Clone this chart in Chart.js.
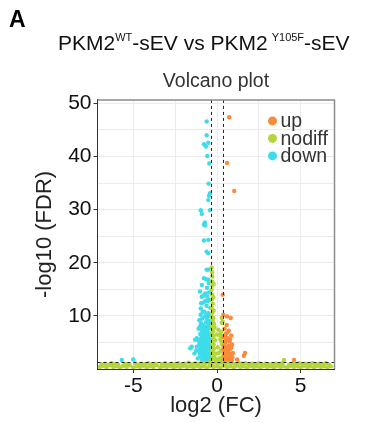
<!DOCTYPE html>
<html>
<head>
<meta charset="utf-8">
<script src="https://cdn.jsdelivr.net/npm/chart.js@4.4.0/dist/chart.umd.min.js"></script>
<style>
  html, body { margin: 0; padding: 0; background: #fff; }
  #wrap { position: relative; width: 374px; height: 422px; }
  #wrap canvas { position: absolute; left: 0; top: 0; }
  .panel { position: absolute; left: 9px; top: 6px; font: bold 23px "Liberation Sans", Arial, sans-serif; color: #000; }
  .main { position: absolute; left: 58px; top: 31px; font: 21px "Liberation Sans", Arial, sans-serif; color: #111; white-space: nowrap; }
  .main sup { font-size: 11px; vertical-align: 9px; }
</style>
</head>
<body>
<div id="wrap">
  <canvas id="volcano" width="374" height="422"></canvas>
  <div class="panel">A</div>
  <div class="main">PKM2<sup>WT</sup>-sEV vs PKM2<sup style="margin-left:4px">Y105F</sup>-sEV</div>
</div>
<script>
// volcano plot points, [log2 FC, -log10 FDR]
const upPoints = [
  [0.73, 47.4], [0.6, 38.8], [1.03, 33.5], [0.34, 14.0], [0.38, 10.2], [0.82, 9.6],
  [0.6, 9.9], [0.58, 8.3], [0.45, 7.6], [0.7, 7.2], [0.52, 6.6], [0.85, 6.3],
  [0.4, 6.0], [0.65, 5.8], [0.75, 5.2], [0.5, 5.0], [0.9, 4.6], [0.42, 4.4],
  [0.6, 4.2], [0.8, 3.8], [0.48, 3.5], [0.68, 3.2], [0.95, 3.0], [0.4, 2.8],
  [0.55, 2.4], [0.78, 2.2], [0.62, 1.8], [0.45, 1.7], [0.88, 1.6], [1.67, 3.0],
  [1.6, 2.5], [1.2, 1.8], [4.6, 1.7],
  [0.5, 6.0], [0.62, 6.9], [0.78, 5.6], [0.55, 5.4], [0.7, 4.4], [0.85, 4.0],
  [0.5, 4.1], [0.58, 3.0], [0.78, 2.8], [0.46, 2.2], [0.7, 1.7], [0.92, 2.2],
  [0.4, 3.6], [0.66, 3.8]
];

const downPoints = [
  [-0.62, 46.6], [-0.62, 44.0], [-0.78, 42.3], [-0.66, 41.9], [-0.52, 42.6], [-0.58, 40.1],
  [-0.46, 38.7], [-0.5, 34.9], [-0.42, 33.1], [-0.48, 32.6], [-0.52, 31.8], [-0.97, 29.9],
  [-0.91, 29.2], [-0.42, 29.9], [-0.78, 27.2], [-0.72, 27.6], [-0.72, 27.0], [-0.78, 24.2],
  [-0.52, 24.3], [-0.62, 22.1], [-0.52, 21.8], [-0.62, 18.7], [-0.52, 18.7], [-0.78, 17.1],
  [-0.66, 16.9], [-0.52, 16.8], [-1.02, 14.6], [-0.91, 13.6], [-0.8, 12.5], [-0.62, 11.9],
  [-0.97, 11.4], [-0.52, 10.5], [-0.72, 9.9], [-1.06, 9.2], [-0.6, 15.3], [-0.45, 13.0],
  [-0.7, 14.2], [-0.85, 10.8], [-0.4, 11.5], [-0.55, 12.8], [-0.9, 15.8], [-0.5, 16.2],
  [-0.95, 8.6], [-0.8, 8.2], [-0.65, 8.8], [-0.5, 8.4], [-0.42, 9.0], [-1.1, 7.6],
  [-0.9, 7.3], [-0.72, 7.5], [-0.58, 7.1], [-0.45, 7.8], [-1.0, 6.6], [-0.85, 6.3],
  [-0.7, 6.5], [-0.55, 6.2], [-0.4, 6.7], [-1.2, 5.8], [-0.95, 5.6], [-0.78, 5.5],
  [-0.62, 5.3], [-0.48, 5.7], [-1.31, 5.5], [-1.51, 4.2], [-1.21, 4.2], [-1.05, 4.6],
  [-0.9, 4.4], [-0.75, 4.7], [-0.6, 4.3], [-0.45, 4.5], [-1.1, 3.5], [-0.95, 3.2],
  [-0.8, 3.6], [-0.65, 3.3], [-0.5, 3.5], [-0.4, 3.1], [-1.6, 3.9], [-1.0, 2.4],
  [-0.85, 2.6], [-0.7, 2.2], [-0.55, 2.5], [-0.42, 2.3], [-0.9, 1.7], [-0.75, 1.6],
  [-0.6, 1.8], [-0.45, 1.6], [-1.15, 2.0], [-1.35, 2.9], [-5.69, 1.7], [-5.0, 1.8],
  [-0.98, 10.2], [-0.88, 9.5], [-0.75, 10.8], [-0.66, 10.1], [-0.58, 9.4], [-0.47, 10.0],
  [-0.4, 8.6], [-1.02, 8.0], [-0.86, 7.8], [-0.64, 7.9], [-0.52, 7.6], [-0.78, 6.9],
  [-0.62, 6.8], [-0.48, 6.4], [-0.92, 6.0], [-0.66, 5.9], [-0.42, 5.4], [-1.08, 5.2],
  [-0.86, 5.0], [-0.7, 4.9], [-0.55, 4.9], [-0.4, 4.7], [-0.98, 4.0], [-0.84, 3.9],
  [-0.7, 3.9], [-0.56, 4.0], [-0.44, 3.8], [-1.02, 3.0], [-0.88, 2.9], [-0.74, 2.8],
  [-0.6, 2.9], [-0.47, 2.7], [-0.38, 2.0], [-0.66, 2.0], [-0.8, 2.0], [-0.52, 1.9],
  [-1.25, 3.4], [-0.7, 12.8], [-0.82, 13.8], [-0.48, 14.4], [-0.58, 13.6], [-0.95, 12.4]
];

// not significant: bottom band plus the column between the FC cut-offs
const nodiffPoints = [
  [-7.0, 0.4], [-6.8, 0.6], [-6.6, 0.3], [-6.4, 0.7], [-6.2, 0.4], [-6.0, 0.5], [-5.8, 0.3],
  [-5.6, 0.6], [-5.4, 0.4], [-5.2, 0.7], [-5.0, 0.3], [-4.8, 0.5], [-4.6, 0.4], [-4.4, 0.6],
  [-4.2, 0.3], [-4.0, 0.5], [-3.8, 0.4], [-3.6, 0.7], [-3.4, 0.3], [-3.2, 0.5], [-3.0, 0.4],
  [-2.8, 0.6], [-2.6, 0.3], [-2.4, 0.5], [-2.2, 0.4], [-2.0, 0.6], [-1.8, 0.4], [-1.6, 0.5],
  [-1.4, 0.3], [-1.2, 0.6], [-1.0, 0.4], [-0.8, 0.5], [-0.6, 0.3], [-0.4, 0.6], [-0.2, 0.4],
  [0.0, 0.5], [0.2, 0.3], [0.4, 0.6], [0.6, 0.4], [0.8, 0.5], [1.0, 0.3], [1.2, 0.6],
  [1.4, 0.4], [1.6, 0.5], [1.8, 0.3], [2.0, 0.6], [2.2, 0.4], [2.4, 0.5], [2.6, 0.3],
  [2.8, 0.6], [3.0, 0.4], [3.2, 0.5], [3.4, 0.3], [3.6, 0.6], [3.8, 0.4], [4.0, 0.5],
  [4.2, 0.3], [4.4, 0.6], [4.6, 0.4], [4.8, 0.5], [5.0, 0.3], [5.2, 0.6], [5.4, 0.4],
  [5.6, 0.5], [5.8, 0.3], [6.0, 0.6], [6.2, 0.4], [6.4, 0.5], [6.6, 0.3], [6.8, 0.5],
  [-6.9, 0.9], [-6.7, 1.0], [-6.5, 0.8], [-6.3, 1.1], [-6.1, 0.9], [-5.9, 0.8], [-5.5, 1.0],
  [-5.3, 0.9], [-4.9, 1.1], [-4.7, 0.8], [-4.5, 1.0], [-4.3, 0.9], [-4.1, 1.1], [-3.9, 0.8],
  [-3.7, 1.0], [-3.3, 0.9], [-3.1, 1.1], [-2.9, 0.8], [-2.7, 1.0], [-2.5, 0.9], [-2.3, 1.1],
  [-2.1, 0.8], [-1.9, 1.0], [-1.7, 1.2], [-1.5, 0.9], [-1.3, 1.1], [-1.1, 1.0], [-0.9, 1.2],
  [-0.7, 1.1], [-0.5, 1.2], [-0.3, 1.0], [-0.1, 1.2], [0.1, 1.1], [0.3, 1.2], [0.5, 1.0],
  [0.7, 1.2], [0.9, 1.1], [1.1, 0.9], [1.3, 1.2], [1.5, 1.0], [1.7, 1.1], [1.9, 0.8],
  [2.1, 1.0], [2.3, 0.9], [2.5, 1.1], [2.7, 0.8], [2.9, 1.0], [3.1, 0.9], [3.3, 0.8],
  [3.5, 1.0], [3.7, 0.9], [3.9, 1.1], [4.0, 1.7], [4.3, 0.8], [4.5, 1.0], [4.7, 0.9],
  [4.9, 1.1], [5.1, 0.8], [5.3, 1.0], [5.5, 0.9], [5.7, 1.1], [5.9, 0.8], [6.1, 1.0],
  [6.3, 0.9], [6.5, 1.1], [6.7, 0.8],
  [-0.32, 19.1], [-0.3, 18.2], [-0.28, 17.4], [-0.31, 16.5], [-0.27, 15.7], [-0.32, 14.9],
  [-0.29, 14.0], [-0.3, 13.1], [-0.26, 12.3], [-0.31, 11.5], [-0.28, 10.6], [-0.3, 9.8],
  [-0.25, 9.0], [-0.31, 8.2], [-0.27, 7.4], [-0.3, 6.6], [-0.24, 5.8], [-0.3, 5.0],
  [-0.26, 4.2], [-0.31, 3.4], [-0.27, 2.6], [-0.3, 1.8], [-0.2, 11.0], [-0.18, 8.5],
  [-0.15, 7.8], [-0.2, 6.2], [-0.12, 5.4], [-0.18, 3.8], [-0.08, 2.9], [-0.15, 2.2],
  [0.0, 6.5], [0.05, 4.1], [0.08, 7.4], [0.14, 6.4], [0.1, 3.0], [0.15, 2.0],
  [0.2, 5.6], [0.25, 7.0], [0.28, 9.6], [0.28, 8.7], [0.34, 8.9], [0.3, 4.6],
  [0.22, 3.4], [0.3, 2.2], [0.26, 5.2], [0.02, 1.6], [0.18, 1.5], [-0.05, 1.7],
  [-0.22, 13.5], [-0.2, 16.0], [-0.22, 9.6], [-0.24, 7.0], [-0.2, 4.6], [-0.22, 3.0],
  [0.3, 6.2], [0.32, 3.8], [0.26, 1.6]
];

const groupLabels = ['up', 'nodiff', 'down'];
const groupColors = ['#FA8A3C', '#B4D63C', '#3CDCEB'];

// cut-offs drawn as dashed lines
const fcCutoffs = [-0.34, 0.34];
const fdrCutoff = 1.3;

const xTickLabels = [-5, 0, 5];
const yTickLabels = [10, 20, 30, 40, 50];

const toXY = pts => pts.map(p => ({ x: p[0], y: p[1] }));

const cutoffLines = {
    id: 'cutoffLines',
    afterDatasetsDraw(chart) {
        const { ctx, chartArea: a, scales: { x, y } } = chart;
        ctx.save();
        ctx.strokeStyle = '#222';
        ctx.lineWidth = 1;
        ctx.setLineDash([3, 3]);
        fcCutoffs.forEach(v => {
            const px = Math.round(x.getPixelForValue(v)) + 0.5;
            ctx.beginPath();
            ctx.moveTo(px, a.top);
            ctx.lineTo(px, a.bottom);
            ctx.stroke();
        });
        const py = Math.round(y.getPixelForValue(fdrCutoff)) + 0.5;
        ctx.beginPath();
        ctx.moveTo(a.left, py);
        ctx.lineTo(a.right, py);
        ctx.stroke();
        ctx.restore();
    },
    afterDraw(chart) {
        const { ctx, chartArea: a } = chart;
        ctx.save();
        // grey panel border on top and right
        ctx.strokeStyle = '#8c8c8c';
        ctx.lineWidth = 1.5;
        ctx.beginPath();
        ctx.moveTo(a.left, a.top);
        ctx.lineTo(a.right, a.top);
        ctx.lineTo(a.right, a.bottom);
        ctx.stroke();

        // legend inside the panel, top right
        ctx.font = '19.5px "Liberation Sans", Arial, sans-serif';
        ctx.textBaseline = 'middle';
        groupLabels.forEach((label, i) => {
            const ly = a.top + 21 + i * 17.5;
            ctx.fillStyle = groupColors[i];
            ctx.beginPath();
            ctx.arc(a.right - 62, ly, 4.5, 0, Math.PI * 2);
            ctx.fill();
            ctx.fillStyle = '#333';
            ctx.fillText(label, a.right - 54, ly + 1);
        });
        ctx.restore();
    }
};

const majorX = v => xTickLabels.includes(v);
const majorY = v => yTickLabels.includes(v);

new Chart(document.getElementById('volcano'), {
    type: 'scatter',
    data: {
        datasets: [
            { label: groupLabels[0], data: toXY(upPoints), backgroundColor: groupColors[0] },
            { label: groupLabels[1], data: toXY(nodiffPoints), backgroundColor: groupColors[1] },
            { label: groupLabels[2], data: toXY(downPoints), backgroundColor: groupColors[2] }
        ]
    },
    options: {
        responsive: false,
        animation: false,
        layout: { padding: { left: 30, right: 39.5, top: 62, bottom: 3 } },
        elements: { point: { radius: 2.2, borderWidth: 0, hoverRadius: 2.2 } },
        plugins: {
            legend: { display: false },
            tooltip: { enabled: false },
            title: {
                display: true,
                fullSize: false,
                text: 'Volcano plot',
                color: '#333',
                font: { family: '"Liberation Sans", Arial, sans-serif', size: 19.5, weight: 'normal' },
                padding: { top: 8, bottom: 6.5 }
            }
        },
        scales: {
            x: {
                type: 'linear',
                min: -7.14,
                max: 7.02,
                afterFit: s => { s.height = 50; },
                border: { color: '#333', width: 1 },
                grid: {
                    color: c => c.tick && c.tick.value > -7 && c.tick.value < 7 ? '#ebebeb' : 'rgba(0,0,0,0)',
                    tickColor: c => c.tick && majorX(c.tick.value) ? '#333' : 'rgba(0,0,0,0)',
                    tickLength: 4
                },
                ticks: {
                    stepSize: 2.5,
                    includeBounds: false,
                    maxRotation: 0,
                    autoSkip: false,
                    padding: 1,
                    color: '#111',
                    font: { family: '"Liberation Sans", Arial, sans-serif', size: 21 },
                    callback: v => majorX(v) ? String(v) : ''
                },
                title: {
                    display: true,
                    text: 'log2 (FC)',
                    color: '#222',
                    font: { family: '"Liberation Sans", Arial, sans-serif', size: 22 },
                    padding: { top: 0, bottom: 0 }
                }
            },
            y: {
                type: 'linear',
                min: 0,
                max: 50.66,
                afterFit: s => { s.width = 67.5; },
                border: { color: '#333', width: 1 },
                grid: {
                    color: c => c.tick && c.tick.value > 0 ? '#ebebeb' : 'rgba(0,0,0,0)',
                    tickColor: c => c.tick && majorY(c.tick.value) ? '#333' : 'rgba(0,0,0,0)',
                    tickLength: 4
                },
                ticks: {
                    stepSize: 5,
                    includeBounds: false,
                    autoSkip: false,
                    padding: 2,
                    color: '#111',
                    font: { family: '"Liberation Sans", Arial, sans-serif', size: 21 },
                    callback: v => majorY(v) ? String(v) : ''
                },
                title: {
                    display: true,
                    text: '-log10 (FDR)',
                    color: '#222',
                    font: { family: '"Liberation Sans", Arial, sans-serif', size: 22 },
                    padding: { top: 2, bottom: 0 }
                }
            }
        }
    },
    plugins: [cutoffLines]
});
</script>
</body>
</html>
